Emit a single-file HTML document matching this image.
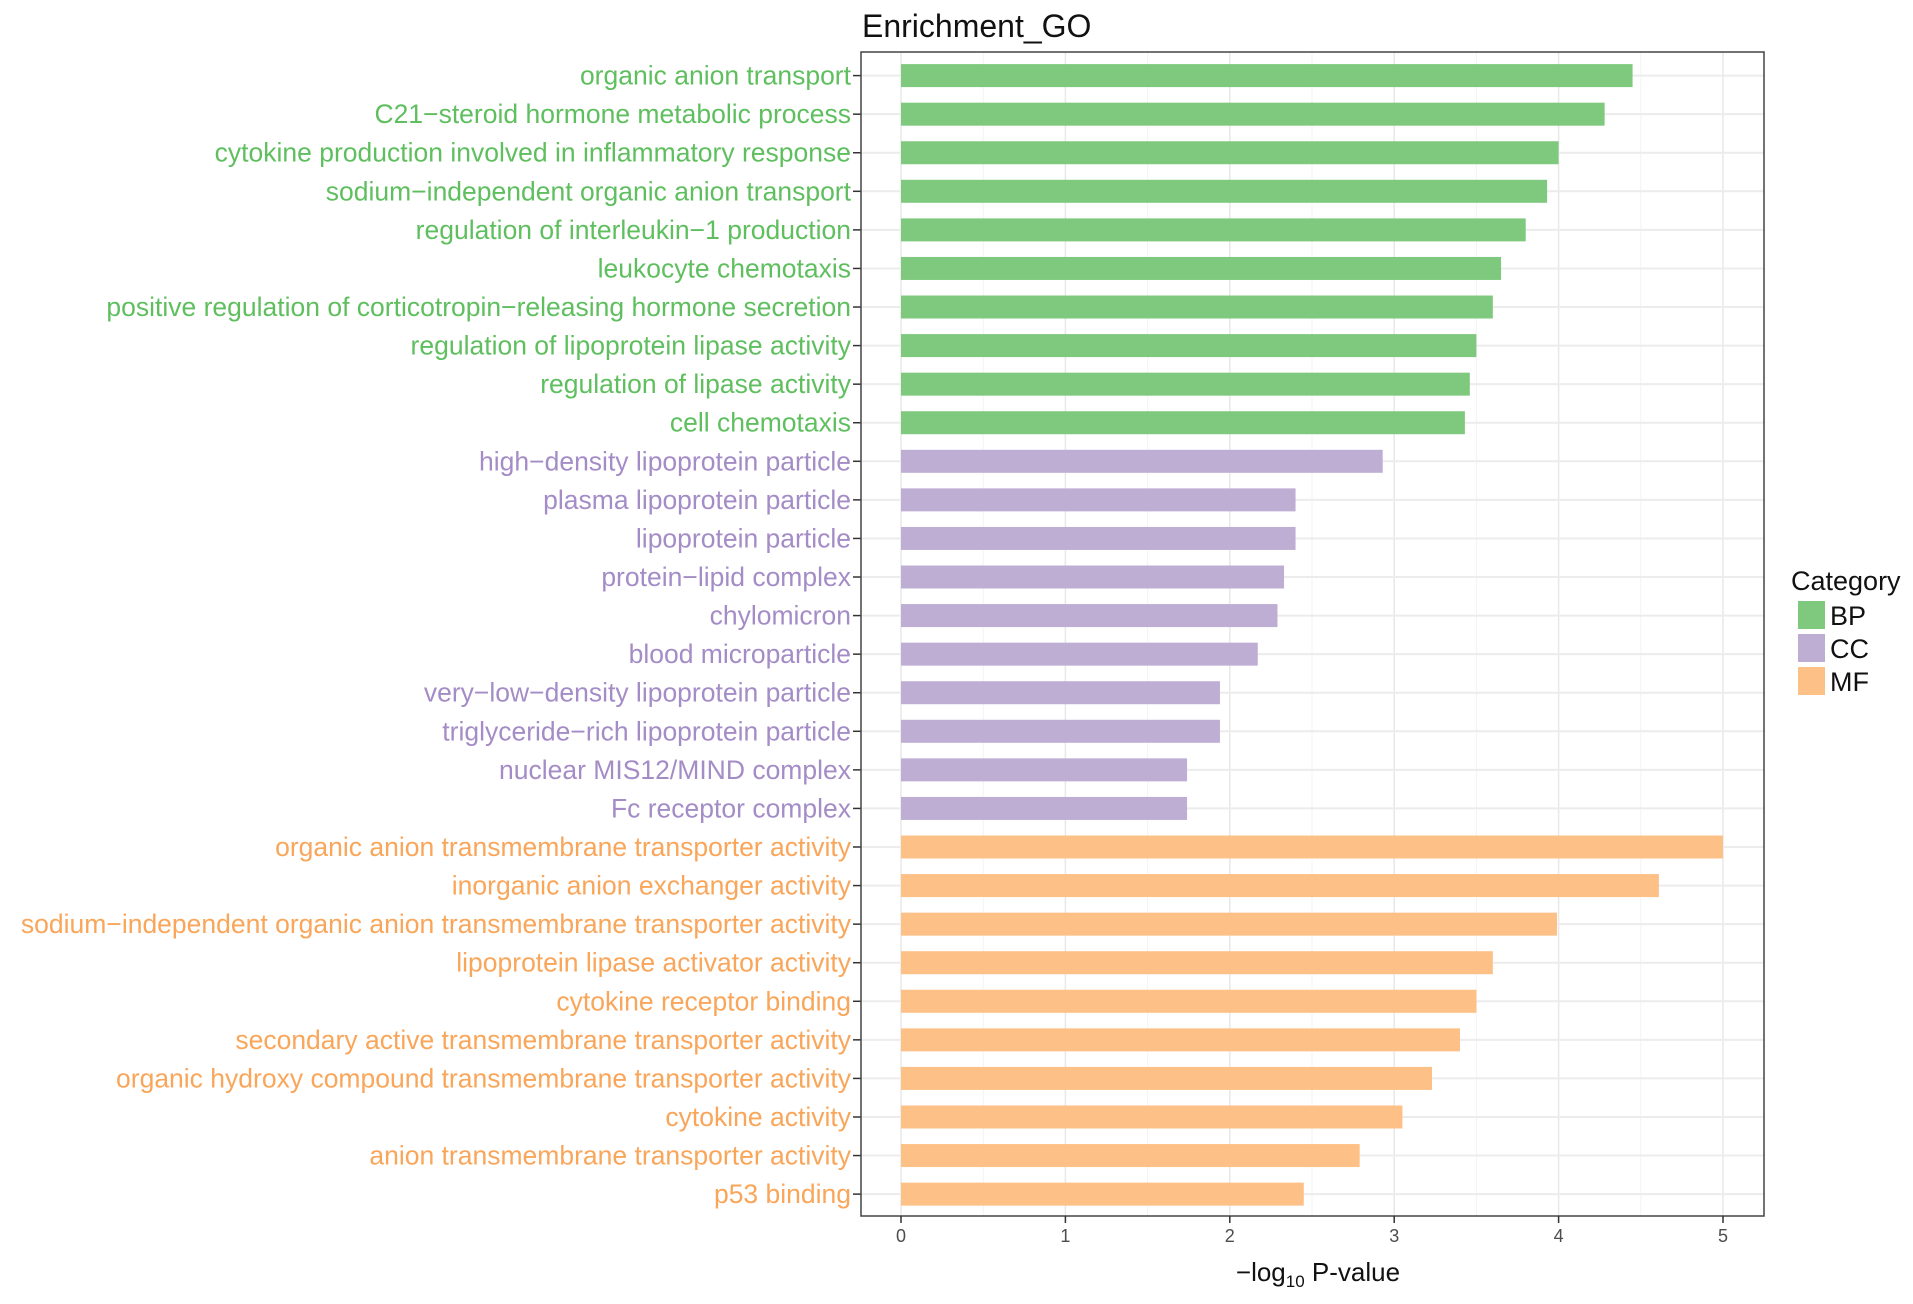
<!DOCTYPE html>
<html><head><meta charset="utf-8"><style>
body{margin:0;background:#fff;}
svg text{font-family:"Liberation Sans",sans-serif;}
</style></head><body>
<svg id="chart" width="1913" height="1299" xmlns="http://www.w3.org/2000/svg"></svg>
<script>
const categories = ["organic anion transport","C21\u2212steroid hormone metabolic process","cytokine production involved in inflammatory response","sodium\u2212independent organic anion transport","regulation of interleukin\u22121 production","leukocyte chemotaxis","positive regulation of corticotropin\u2212releasing hormone secretion","regulation of lipoprotein lipase activity","regulation of lipase activity","cell chemotaxis","high\u2212density lipoprotein particle","plasma lipoprotein particle","lipoprotein particle","protein\u2212lipid complex","chylomicron","blood microparticle","very\u2212low\u2212density lipoprotein particle","triglyceride\u2212rich lipoprotein particle","nuclear MIS12/MIND complex","Fc receptor complex","organic anion transmembrane transporter activity","inorganic anion exchanger activity","sodium\u2212independent organic anion transmembrane transporter activity","lipoprotein lipase activator activity","cytokine receptor binding","secondary active transmembrane transporter activity","organic hydroxy compound transmembrane transporter activity","cytokine activity","anion transmembrane transporter activity","p53 binding"];
const values = [4.45,4.28,4.0,3.93,3.8,3.65,3.6,3.5,3.46,3.43,2.93,2.4,2.4,2.33,2.29,2.17,1.94,1.94,1.74,1.74,5.0,4.61,3.99,3.6,3.5,3.4,3.23,3.05,2.79,2.45];
const groups = ["BP","BP","BP","BP","BP","BP","BP","BP","BP","BP","CC","CC","CC","CC","CC","CC","CC","CC","CC","CC","MF","MF","MF","MF","MF","MF","MF","MF","MF","MF"];
const legendKeys = ["BP","CC","MF"];
const xTicks = [0,1,2,3,4,5];
const colors = {BP:"#7fc97f",CC:"#beaed4",MF:"#fdc086"};
const textColors = {BP:"#5fbf5f",CC:"#a48cc6",MF:"#f9a65a"};

const svg = document.getElementById('chart');
const NS = "http://www.w3.org/2000/svg";
const PL=861, PR=1764, PT=52, PB=1216;
const X0=901, UNIT=164.4;
const Y0=75.6, STEP=38.57, BH=23;
const xs = v => X0 + v*UNIT;
const ys = i => Y0 + i*STEP;
function mk(tag, attrs, parent){const e=document.createElementNS(NS,tag);for(const k in attrs)e.setAttribute(k,attrs[k]);(parent||svg).appendChild(e);return e;}

const panel = mk('g',{});


for(let t=0.5;t<5.5;t+=1){mk('line',{x1:xs(t),x2:xs(t),y1:PT,y2:PB,stroke:'#f3f3f3','stroke-width':1},panel);}
for(let t=0;t<xTicks.length;t++){mk('line',{x1:xs(xTicks[t]),x2:xs(xTicks[t]),y1:PT,y2:PB,stroke:'#e8e8e8','stroke-width':1.5},panel);}
categories.forEach((c,i)=>{mk('line',{x1:PL,x2:PR,y1:ys(i),y2:ys(i),stroke:'#ececec','stroke-width':2},panel);});

categories.forEach((c,i)=>{
  const r = mk('rect',{x:xs(0),y:ys(i)-BH/2,width:xs(values[i])-xs(0),height:BH,fill:colors[groups[i]]});
  
  
  const t = mk('text',{x:851,y:ys(i)+9,'text-anchor':'end','font-size':26.5,fill:textColors[groups[i]]});
  t.textContent=c;
  
  
  mk('line',{x1:853,x2:861,y1:ys(i),y2:ys(i),stroke:'#333','stroke-width':1.5});
});
mk('rect',{x:PL,y:PT,width:PR-PL,height:PB-PT,fill:'none',stroke:'#444','stroke-width':1.5});

xTicks.forEach(v=>{
  mk('line',{x1:xs(v),x2:xs(v),y1:PB,y2:PB+7,stroke:'#333','stroke-width':1.5});
  const t=mk('text',{x:xs(v),y:1242,'text-anchor':'middle','font-size':18,fill:'#4d4d4d'});
  t.textContent=v;
  
  
});

const xt = mk('text',{x:1318,y:1281,'text-anchor':'middle','font-size':26,fill:'#111'});


xt.innerHTML='\u2212log<tspan font-size="17" dy="6">10</tspan><tspan dy="-6"> P-value</tspan>';

const title = mk('text',{x:862,y:37,'font-size':32,fill:'#111'});
title.textContent='Enrichment_GO';



const lg = mk('text',{x:1791,y:590,'font-size':27,fill:'#111'});
lg.textContent='Category';


legendKeys.forEach((k,i)=>{
  const cy = 615+i*33;
  const r=mk('rect',{x:1798,y:cy-14,width:27,height:28,fill:colors[k]});
  
  
  const t=mk('text',{x:1830,y:cy+10,'font-size':27,fill:'#111'});
  t.textContent=k;
  
  
});
</script>
</body></html>
